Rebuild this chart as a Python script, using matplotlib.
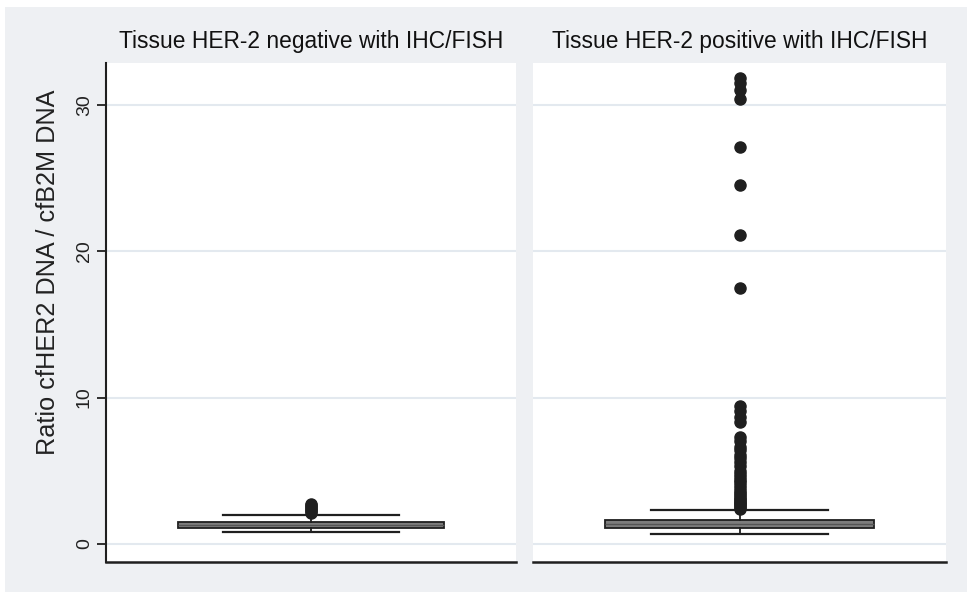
import matplotlib
matplotlib.use("Agg")
import matplotlib.pyplot as plt
from matplotlib.patches import Rectangle

# ---- data -----------------------------------------------------------
panel_titles = ["Tissue HER-2 negative with IHC/FISH",
                "Tissue HER-2 positive with IHC/FISH"]
y_label = "Ratio cfHER2 DNA / cfB2M DNA"
y_ticks = [0, 10, 20, 30]

# box summaries: q1, median, q3, lower/upper adjacent values
neg_q1, neg_med, neg_q3 = 1.11, 1.30, 1.52
neg_whislo, neg_whishi = 0.80, 1.98
neg_fliers = [2.15, 2.25, 2.35, 2.45, 2.55, 2.65, 2.72]

pos_q1, pos_med, pos_q3 = 1.11, 1.35, 1.64
pos_whislo, pos_whishi = 0.68, 2.34
pos_fliers = [2.40, 2.50, 2.60, 2.70, 2.80, 2.90, 3.00, 3.10, 3.20, 3.35,
              3.50, 3.65, 3.80, 4.00, 4.20, 4.40, 4.60, 4.80, 5.00, 5.30,
              5.60, 5.85, 6.10, 6.40, 6.65, 7.00, 7.30,
              8.35, 8.70, 9.10, 9.43,
              17.5, 21.1, 24.5, 27.1,
              30.4, 31.0, 31.5, 31.8]

# ---- figure ---------------------------------------------------------
bg = "#eef0f3"
grid_col = "#e3e9ef"
dark = "#1f1f1f"

fig = plt.figure(figsize=(9.67, 5.92), dpi=100, facecolor="white")
fig.patches.append(Rectangle((5 / 967, 0), 1, 1 - 7 / 592, transform=fig.transFigure,
                             facecolor=bg, edgecolor="none", zorder=-10))

ax1 = fig.add_axes([106 / 967, 1 - 562 / 592, 410 / 967, 499.3 / 592])
ax2 = fig.add_axes([533 / 967, 1 - 562 / 592, 413 / 967, 499.3 / 592])

stats = [
    dict(q1=neg_q1, med=neg_med, q3=neg_q3, whislo=neg_whislo, whishi=neg_whishi, fliers=neg_fliers),
    dict(q1=pos_q1, med=pos_med, q3=pos_q3, whislo=pos_whislo, whishi=pos_whishi, fliers=pos_fliers),
]

for ax, st, title in zip([ax1, ax2], stats, panel_titles):
    ax.set_facecolor("white")
    ax.bxp([st], positions=[0.5], widths=0.65, capwidths=0.43, patch_artist=True,
           boxprops=dict(facecolor="#7d7d7d", edgecolor=dark, linewidth=1.3),
           medianprops=dict(color="#555555", linewidth=1.0),
           whiskerprops=dict(color=dark, linewidth=1.3),
           capprops=dict(color=dark, linewidth=1.6),
           flierprops=dict(marker="o", markersize=8, markerfacecolor=dark,
                           markeredgecolor=dark, linestyle="none"),
           zorder=3)
    ax.set_xlim(0, 1)
    ax.set_ylim(-1.23, 32.87)
    ax.set_yticks(y_ticks)
    ax.grid(axis="y", color=grid_col, linewidth=1.5, zorder=0)
    ax.set_axisbelow(True)
    ax.set_xticks([])
    for side in ["top", "right", "left"]:
        ax.spines[side].set_visible(False)
    ax.spines["bottom"].set_color(dark)
    ax.spines["bottom"].set_linewidth(1.8)
    ax.text(0.5, 1.042, title, transform=ax.transAxes, ha="center", va="center",
            fontsize=16.4, family="Liberation Sans", color="#111111")

ax1.spines["left"].set_visible(True)
ax1.spines["left"].set_color(dark)
ax1.spines["left"].set_linewidth(1.5)
ax1.tick_params(axis="y", length=6.5, width=1.3, color=dark, pad=3, labelsize=14,
                labelcolor="#222222", labelrotation=90)
for lab in ax1.get_yticklabels():
    lab.set_va("center")
    lab.set_family("Liberation Sans")
ax1.set_ylabel(y_label, fontsize=18.2, family="Liberation Sans", color="#222222")
ax1.yaxis.set_label_coords(-0.112, 0.581)

ax2.tick_params(axis="y", left=False, labelleft=False)

fig.savefig("out.png", dpi=100, facecolor=fig.get_facecolor())
